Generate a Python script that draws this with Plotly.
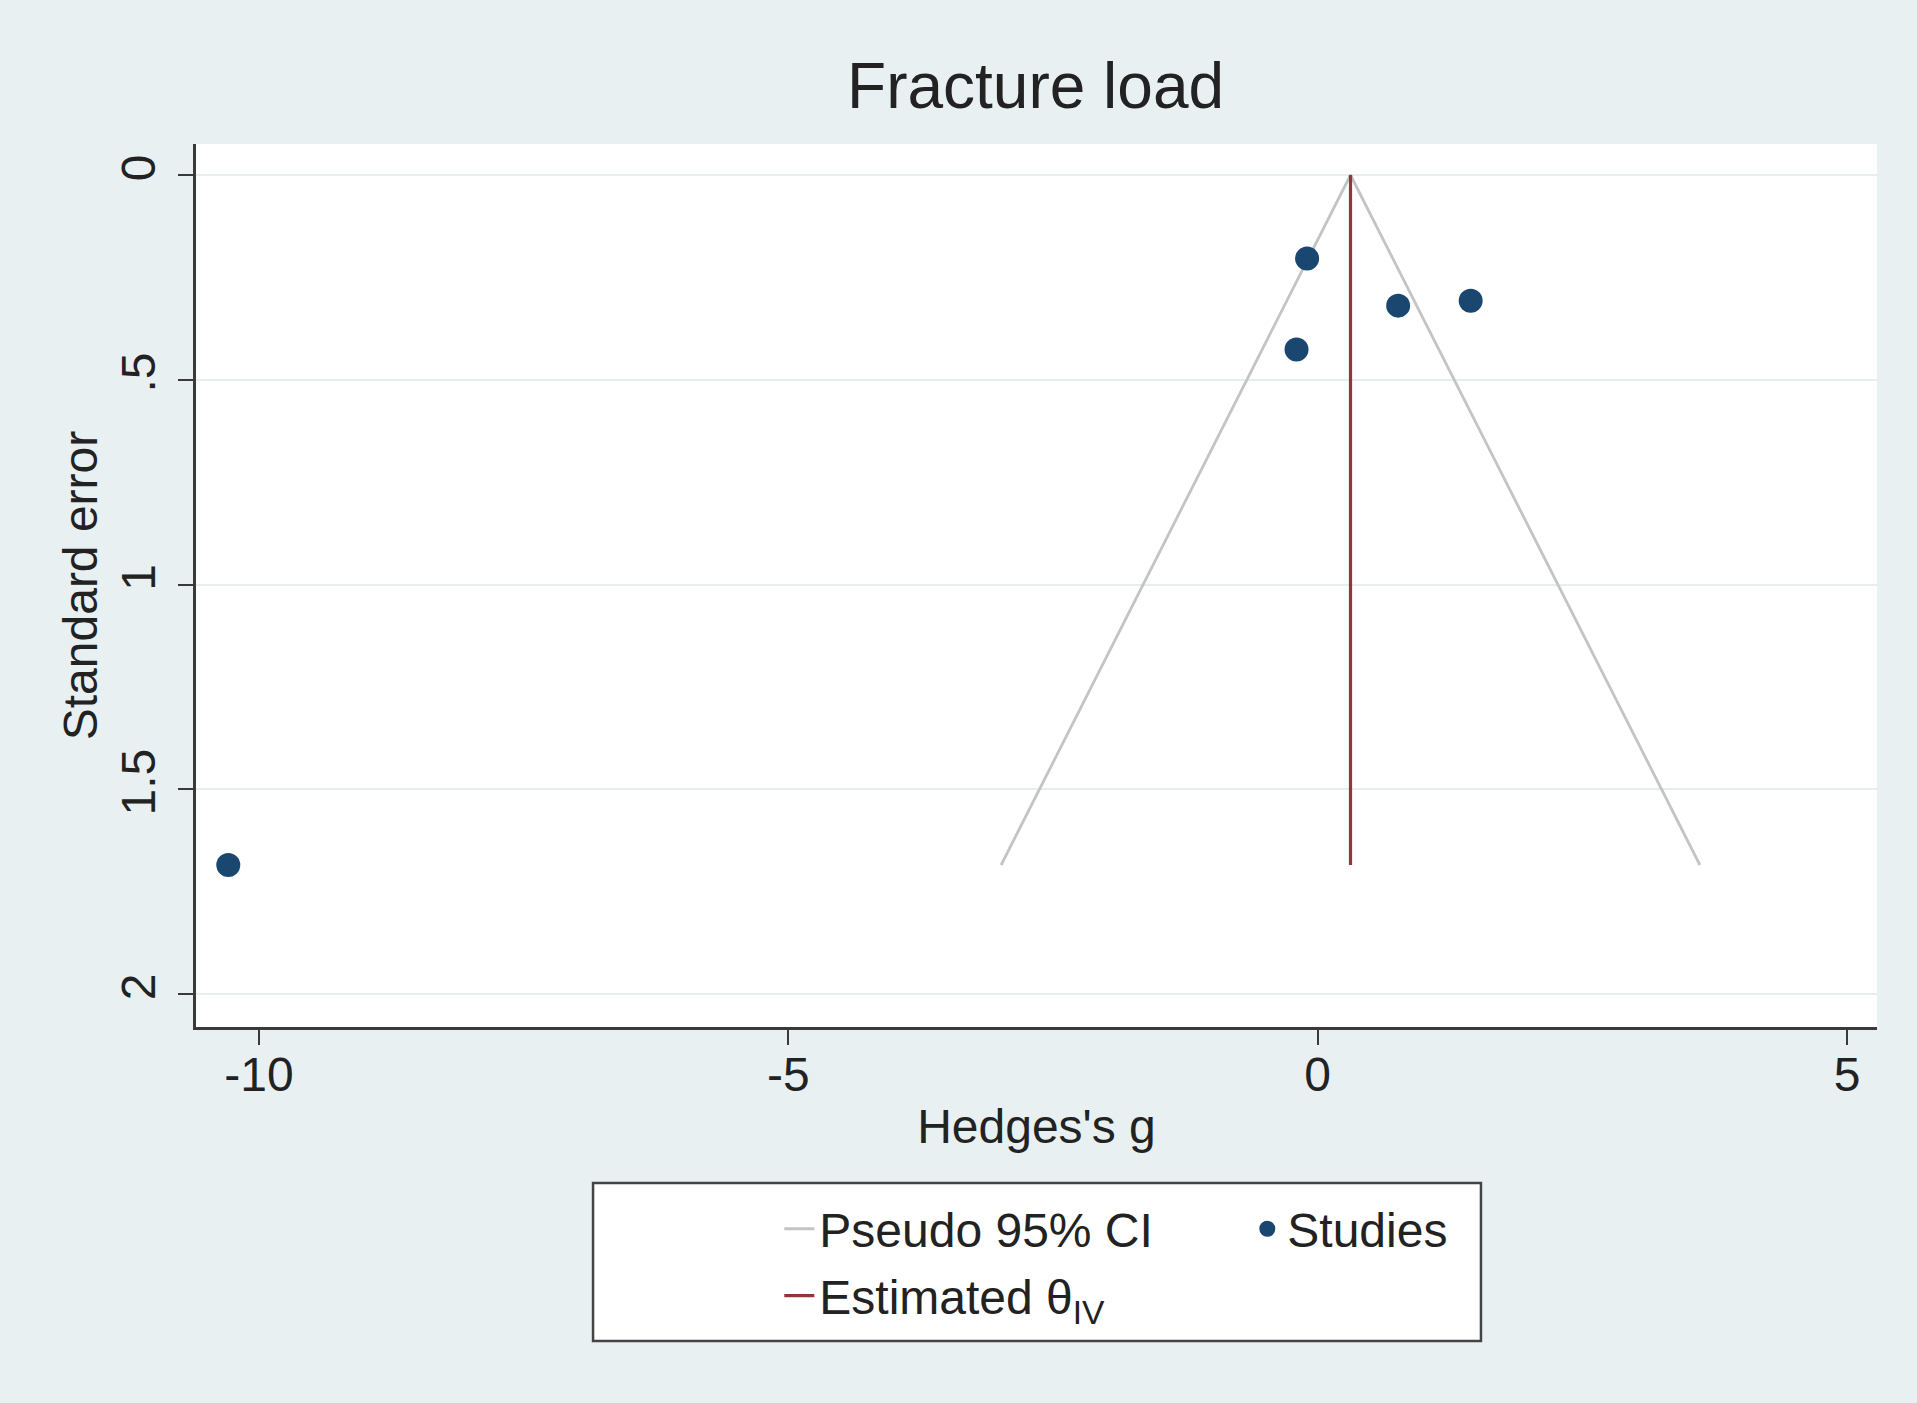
import plotly.graph_objects as go

# ---- data ----
study_g = [-0.10, 0.76, 1.445, -0.20, -10.29]      # Hedges's g of each study
study_se = [0.204, 0.319, 0.307, 0.426, 1.685]     # standard error of each study

theta_iv = 0.31                                    # estimated theta (IV)
se_max = 1.685                                     # bottom of funnel / estimate line
ci_x = [-2.99, 0.31, 3.61]                         # pseudo 95% CI funnel (g)
ci_se = [1.685, 0.0, 1.685]                        # pseudo 95% CI funnel (se)

x_ticks = [-10, -5, 0, 5]
x_ticktext = ["-10", "-5", "0", "5"]
y_ticks = [0, 0.5, 1, 1.5, 2]
y_ticktext = ["0", ".5", "1", "1.5", "2"]

FONT = "Liberation Sans, Arial, Helvetica, sans-serif"
BG = "#e9f0f2"
TXT = "#222222"
AX = "#3a3a3a"

fig = go.Figure()

fig.add_trace(go.Scatter(
    x=ci_x, y=ci_se, mode="lines", name="Pseudo 95% CI",
    line=dict(color="#c4c4c4", width=2.8), legend="legend",
))
fig.add_trace(go.Scatter(
    x=[theta_iv, theta_iv], y=[0, se_max], mode="lines",
    name="Estimated θ<sub>IV</sub>",
    line=dict(color="#90353b", width=3.2), legend="legend2",
))
fig.add_trace(go.Scatter(
    x=study_g, y=study_se, mode="markers", name="Studies",
    marker=dict(color="#1a476f", size=24, line=dict(width=0)), legend="legend",
))

fig.update_layout(
    width=1917, height=1403,
    margin=dict(l=196, r=40, t=144, b=376, pad=0),
    paper_bgcolor=BG, plot_bgcolor="white",
    font=dict(family=FONT, size=48, color=TXT),
    title=dict(text="Fracture load", x=0.5402, xanchor="center",
               y=1 - 86 / 1403, yanchor="middle", yref="container",
               font=dict(size=64, color=TXT, family=FONT)),
    showlegend=True,
    legend=dict(orientation="h", x=0.347, xanchor="left", y=-0.2288, yanchor="middle",
                bgcolor="rgba(0,0,0,0)", borderwidth=0, entrywidth=423,
                entrywidthmode="pixels", font=dict(size=48, color=TXT, family=FONT),
                traceorder="normal"),
    legend2=dict(orientation="h", x=0.347, xanchor="left", y=-0.3046, yanchor="middle",
                 bgcolor="rgba(0,0,0,0)", borderwidth=0,
                 font=dict(size=48, color=TXT, family=FONT)),
    shapes=[dict(type="rect", xref="paper", yref="paper",
                 x0=0.2362, x1=0.7644, y0=-0.3556, y1=-0.1767,
                 line=dict(color="#444444", width=2.5), fillcolor="white", layer="below")],
)

fig.update_xaxes(
    range=[-10.595, 5.283], tickvals=x_ticks, ticktext=x_ticktext,
    showline=True, linecolor=AX, linewidth=2.5, mirror=False,
    ticks="outside", ticklen=15, tickwidth=2, tickcolor=AX,
    showgrid=False, zeroline=False, automargin=False, ticklabelstandoff=-11,
    tickfont=dict(size=48, color=TXT, family=FONT),
    title=dict(text="Hedges's g", font=dict(size=48, color=TXT, family=FONT), standoff=10),
)
fig.update_yaxes(
    range=[2.0806, -0.0757], tickvals=y_ticks, ticktext=y_ticktext, tickangle=-90,
    showline=True, linecolor=AX, linewidth=2.5, mirror=False,
    ticks="outside", ticklen=15, tickwidth=2, tickcolor=AX,
    showgrid=True, gridcolor="#e6eef0", gridwidth=1.5, zeroline=False, automargin=False,
    ticklabelstandoff=4,
    tickfont=dict(size=48, color=TXT, family=FONT),
    title=dict(text="Standard error", font=dict(size=48, color=TXT, family=FONT), standoff=0),
)

fig.write_html("out.html")
